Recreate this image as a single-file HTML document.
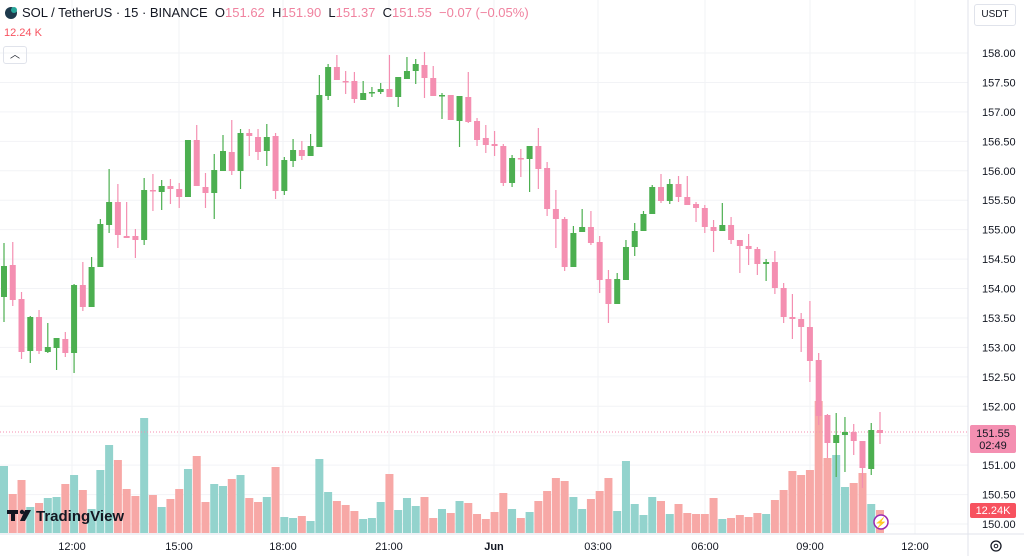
<!DOCTYPE html>
<html><head><meta charset="utf-8"><style>
body{margin:0;width:1024px;height:556px;overflow:hidden;background:#fff;font-family:"Liberation Sans",sans-serif;}
#c{position:absolute;left:0;top:0}
.hd{position:absolute;left:22px;top:5px;font-size:13px;color:#131722;white-space:nowrap}
.hd span.v{color:#f0829f}
</style></head><body>
<svg id="c" width="1024" height="556" xmlns="http://www.w3.org/2000/svg" font-family="Liberation Sans, sans-serif"></svg>
<div class="hd">SOL / TetherUS · 15 · BINANCE &nbsp;O<span class="v">151.62</span> &nbsp;H<span class="v">151.90</span> &nbsp;L<span class="v">151.37</span> &nbsp;C<span class="v">151.55</span> &nbsp;<span class="v">−0.07 (−0.05%)</span></div>
<div style="position:absolute;left:4px;top:27px;font-size:11px;color:#f7525f">12.24 K</div>
<div style="position:absolute;left:3px;top:46px;width:22px;height:16px;border:1px solid #e0e3eb;border-radius:3px;font-size:10px;text-align:center;line-height:17px;color:#131722">︿</div>
<div style="position:absolute;left:974px;top:4px;width:40px;height:20px;border:1px solid #e0e3eb;border-radius:3px;font-size:10px;text-align:center;line-height:20px;color:#131722">USDT</div>
<script>
var C=[
[266,297,243,322,1],[265,300,242,306,0],[299,352,292,359,0],[317,351,316,363,1],[317,351,310,354,0],[347,352,323,353,1],[338,348,338,370,1],[339,353,332,357,0],[285,353,284,373,1],[285,307,262,311,0],
[267,307,257,307,1],[224,267,219,267,1],[202,225,169,233,1],[202,235,184,248,0],[236,238,202,238,0],[236,240,229,258,0],[190,240,178,245,1],[190,191,174,211,0],[186,192,180,210,1],[186,189,179,204,0],
[189,197,183,208,0],[140,197,140,197,1],[140,186,125,186,0],[187,193,173,208,0],[170,193,154,219,1],[151,171,135,171,1],[152,171,120,175,0],[133,171,129,189,1],[133,136,129,156,0],[137,152,129,160,0],
[137,151,124,166,1],[136,191,133,199,0],[160,191,157,195,1],[150,161,139,167,1],[150,156,141,160,0],[146,156,134,156,1],[95,147,75,147,1],[67,96,64,100,1],[67,80,55,80,0],[81,82,71,94,0],
[81,99,72,103,0],[93,100,81,100,1],[92,93,87,97,1],[89,92,83,94,1],[89,97,55,97,0],[77,97,77,107,1],[71,79,57,79,1],[64,71,59,84,1],[65,78,52,98,0],[78,96,66,96,0],
[95,96,93,119,1],[95,120,95,120,0],[96,121,96,147,1],[97,122,72,123,0],[121,140,118,146,0],[138,145,125,153,0],[144,146,131,156,0],[146,183,144,186,0],[158,183,155,187,1],[158,159,149,177,0],
[146,159,146,192,1],[146,169,128,189,0],[168,209,162,216,0],[209,219,190,248,0],[219,267,217,271,0],[233,267,226,267,1],[227,232,209,232,1],[227,243,211,245,0],[242,280,236,293,0],[279,304,270,323,0],
[279,304,273,304,1],[247,280,240,280,1],[231,247,223,256,1],[214,231,211,231,1],[187,214,185,214,1],[187,201,174,203,0],[184,201,179,204,1],[184,197,176,202,0],[197,205,176,205,0],[204,208,202,222,0],
[208,227,205,233,0],[227,231,220,252,0],[225,231,203,231,1],[225,240,217,244,0],[240,246,240,273,0],[246,249,234,265,0],[249,264,247,275,0],[262,264,259,281,1],[262,288,251,294,0],[288,317,283,323,0],
[317,319,294,339,0],[319,327,313,352,0],[327,361,301,382,0],[360,416,353,425,0],[415,443,414,458,0],[435,443,413,477,1],[432,435,417,472,1],[432,441,424,455,0],[441,468,441,488,0],[430,469,423,475,1],
[430,433,412,444,0]];
var V=[466,494,480,507,503,498,497,484,475,490,509,470,445,460,489,496,418,495,507,499,489,469,456,502,484,486,479,475,498,502,497,467,517,518,516,521,459,492,501,505,511,519,518,502,474,510,498,506,497,518,509,513,501,503,514,519,512,493,509,518,512,501,491,478,481,497,509,499,491,478,511,461,504,515,497,501,514,504,513,514,514,498,519,518,515,517,513,514,500,490,471,475,470,401,458,455,487,483,473,504,510];
var s='';
// grid
for(var i=0;i<=16;i++){var y=53+i*29.44;s+='<line x1="0" x2="968" y1="'+y+'" y2="'+y+'" stroke="#f2f3f6"/>';
s+='<text x="982" y="'+(y+4)+'" font-size="11" fill="#131722">'+(158-i*0.5).toFixed(2)+'</text>';}
var T=[[72,'12:00'],[179,'15:00'],[283,'18:00'],[389,'21:00'],[494,'Jun'],[598,'03:00'],[705,'06:00'],[810,'09:00'],[915,'12:00']];
T.forEach(function(t){s+='<line x1="'+t[0]+'" x2="'+t[0]+'" y1="0" y2="534" stroke="#f2f3f6"/>';
s+='<text x="'+t[0]+'" y="550" font-size="11" fill="#131722" text-anchor="middle"'+(t[1]=='Jun'?' font-weight="bold"':'')+'>'+t[1]+'</text>';});
s+='<line x1="968" x2="968" y1="0" y2="556" stroke="#e0e3eb"/>';
s+='<line x1="0" x2="1024" y1="534" y2="534" stroke="#e0e3eb"/>';
// volume
for(var i=0;i<V.length;i++){var x=4+i*8.76;var g=C[i][4];
s+='<rect x="'+(x-4)+'" y="'+V[i]+'" width="8" height="'+(533-V[i])+'" fill="'+(g?'#93d3cd':'#f7a8a6')+'"/>';}
s+='<line x1="0" x2="968" y1="432" y2="432" stroke="#f48fb1" stroke-dasharray="1,2"/>';
// candles
for(var i=0;i<C.length;i++){var x=4+i*8.76,c=C[i];var col=c[4]?'#4caf50':'#f48fb1';
s+='<line x1="'+x+'" x2="'+x+'" y1="'+c[2]+'" y2="'+c[3]+'" stroke="'+col+'" stroke-width="1.2"/>';
s+='<rect x="'+(x-3)+'" y="'+c[0]+'" width="6" height="'+Math.max(1.5,c[1]-c[0])+'" fill="'+col+'"/>';}
// labels
s+='<rect x="970" y="425" width="46" height="28" rx="2" fill="#f48fb1"/><text x="993" y="437" font-size="11" fill="#131722" text-anchor="middle">151.55</text><text x="993" y="449" font-size="11" fill="#131722" text-anchor="middle">02:49</text>';
s+='<rect x="970" y="503" width="46" height="15" rx="2" fill="#f7525f"/><text x="993" y="514" font-size="11" fill="#fff" text-anchor="middle">12.24K</text>';
// logo
s+='<rect x="7" y="510" width="11" height="4" fill="#131722"/><rect x="11" y="510" width="4" height="11" fill="#131722"/><circle cx="22" cy="512" r="2.2" fill="#131722"/><polygon points="25,510 31,510 25,521 20,521" fill="#131722"/>';
s+='<text x="36" y="521" font-size="15" font-weight="bold" fill="#131722">TradingView</text>';
s+='<circle cx="881" cy="522" r="7" fill="#fff" stroke="#9c27b0" stroke-width="1.5"/><text x="881" y="526" font-size="10" fill="#9c27b0" text-anchor="middle">⚡</text>';
s+='<circle cx="996" cy="546" r="5" fill="none" stroke="#131722" stroke-width="1.3"/><circle cx="996" cy="546" r="1.8" fill="none" stroke="#131722"/>';
s+='<circle cx="11" cy="13" r="6" fill="#1e3a4c"/><circle cx="14" cy="10" r="3" fill="#26a69a"/>';
document.getElementById('c').innerHTML=s;
</script>
</body></html>
